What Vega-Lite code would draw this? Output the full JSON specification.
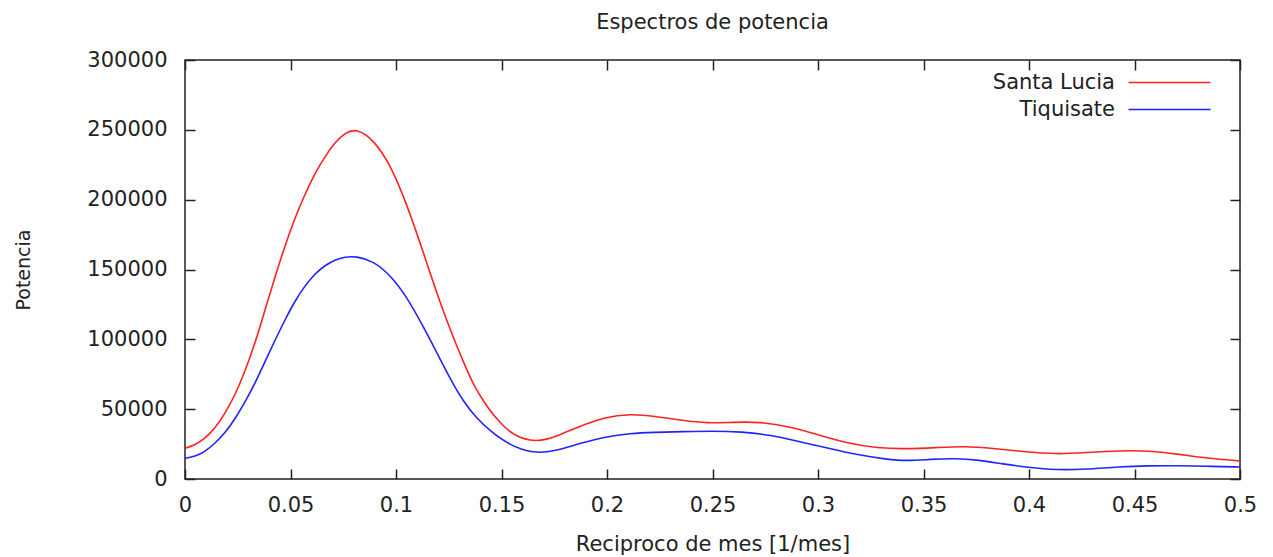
{
  "$schema": "https://vega.github.io/schema/vega-lite/v6.json",
  "width": 1055,
  "height": 419,
  "autosize": {"type": "none"},
  "padding": {"left": 185, "top": 60, "right": 33, "bottom": 78},
  "background": "white",
  "config": {
    "font": "DejaVu Sans",
    "view": {"stroke": "#222", "strokeWidth": 1.5},
    "axis": {
      "domain": false,
      "grid": false,
      "tickColor": "#222",
      "tickWidth": 1.5,
      "tickSize": -10,
      "labelColor": "#222",
      "labelFont": "DejaVu Sans",
      "labelFontSize": 21,
      "titleColor": "#222",
      "titleFont": "DejaVu Sans",
      "titleFontWeight": "normal"
    }
  },
  "title": {
    "text": "Espectros de potencia",
    "font": "DejaVu Sans",
    "fontSize": 21,
    "fontWeight": "normal",
    "color": "#222",
    "anchor": "middle",
    "offset": 16
  },
  "data": {
    "values": [
      {"f": 0, "p": 22000, "s": "Santa Lucia"},
      {"f": 0.0047, "p": 24300, "s": "Santa Lucia"},
      {"f": 0.0095, "p": 29100, "s": "Santa Lucia"},
      {"f": 0.0142, "p": 36300, "s": "Santa Lucia"},
      {"f": 0.019, "p": 47000, "s": "Santa Lucia"},
      {"f": 0.0237, "p": 60000, "s": "Santa Lucia"},
      {"f": 0.0284, "p": 77000, "s": "Santa Lucia"},
      {"f": 0.0332, "p": 97000, "s": "Santa Lucia"},
      {"f": 0.0379, "p": 121000, "s": "Santa Lucia"},
      {"f": 0.0427, "p": 145000, "s": "Santa Lucia"},
      {"f": 0.0474, "p": 167000, "s": "Santa Lucia"},
      {"f": 0.0521, "p": 187000, "s": "Santa Lucia"},
      {"f": 0.0569, "p": 204000, "s": "Santa Lucia"},
      {"f": 0.0616, "p": 219000, "s": "Santa Lucia"},
      {"f": 0.0664, "p": 231000, "s": "Santa Lucia"},
      {"f": 0.0711, "p": 241000, "s": "Santa Lucia"},
      {"f": 0.0758, "p": 248000, "s": "Santa Lucia"},
      {"f": 0.0814, "p": 251000, "s": "Santa Lucia"},
      {"f": 0.0893, "p": 243000, "s": "Santa Lucia"},
      {"f": 0.0972, "p": 225400, "s": "Santa Lucia"},
      {"f": 0.1051, "p": 197000, "s": "Santa Lucia"},
      {"f": 0.113, "p": 162000, "s": "Santa Lucia"},
      {"f": 0.1209, "p": 126000, "s": "Santa Lucia"},
      {"f": 0.1272, "p": 101000, "s": "Santa Lucia"},
      {"f": 0.1319, "p": 84000, "s": "Santa Lucia"},
      {"f": 0.1367, "p": 67000, "s": "Santa Lucia"},
      {"f": 0.143, "p": 52000, "s": "Santa Lucia"},
      {"f": 0.1493, "p": 40000, "s": "Santa Lucia"},
      {"f": 0.1556, "p": 31500, "s": "Santa Lucia"},
      {"f": 0.1635, "p": 27000, "s": "Santa Lucia"},
      {"f": 0.1714, "p": 27900, "s": "Santa Lucia"},
      {"f": 0.1793, "p": 32700, "s": "Santa Lucia"},
      {"f": 0.1856, "p": 36800, "s": "Santa Lucia"},
      {"f": 0.1994, "p": 44600, "s": "Santa Lucia"},
      {"f": 0.2109, "p": 46500, "s": "Santa Lucia"},
      {"f": 0.2224, "p": 45100, "s": "Santa Lucia"},
      {"f": 0.2361, "p": 41800, "s": "Santa Lucia"},
      {"f": 0.2476, "p": 39900, "s": "Santa Lucia"},
      {"f": 0.2591, "p": 40600, "s": "Santa Lucia"},
      {"f": 0.2729, "p": 41000, "s": "Santa Lucia"},
      {"f": 0.2867, "p": 37500, "s": "Santa Lucia"},
      {"f": 0.3005, "p": 31500, "s": "Santa Lucia"},
      {"f": 0.3142, "p": 25500, "s": "Santa Lucia"},
      {"f": 0.328, "p": 22000, "s": "Santa Lucia"},
      {"f": 0.3418, "p": 21500, "s": "Santa Lucia"},
      {"f": 0.3556, "p": 22400, "s": "Santa Lucia"},
      {"f": 0.3693, "p": 23600, "s": "Santa Lucia"},
      {"f": 0.3831, "p": 22000, "s": "Santa Lucia"},
      {"f": 0.3969, "p": 19600, "s": "Santa Lucia"},
      {"f": 0.413, "p": 17700, "s": "Santa Lucia"},
      {"f": 0.4268, "p": 18900, "s": "Santa Lucia"},
      {"f": 0.4428, "p": 20300, "s": "Santa Lucia"},
      {"f": 0.4566, "p": 20300, "s": "Santa Lucia"},
      {"f": 0.4704, "p": 17900, "s": "Santa Lucia"},
      {"f": 0.4842, "p": 14800, "s": "Santa Lucia"},
      {"f": 0.5, "p": 13000, "s": "Santa Lucia"},
      {"f": 0, "p": 14800, "s": "Tiquisate"},
      {"f": 0.0047, "p": 16000, "s": "Tiquisate"},
      {"f": 0.0095, "p": 19600, "s": "Tiquisate"},
      {"f": 0.0142, "p": 25500, "s": "Tiquisate"},
      {"f": 0.019, "p": 33000, "s": "Tiquisate"},
      {"f": 0.0237, "p": 43000, "s": "Tiquisate"},
      {"f": 0.0284, "p": 55000, "s": "Tiquisate"},
      {"f": 0.0332, "p": 68500, "s": "Tiquisate"},
      {"f": 0.0379, "p": 84000, "s": "Tiquisate"},
      {"f": 0.0427, "p": 99500, "s": "Tiquisate"},
      {"f": 0.0474, "p": 114000, "s": "Tiquisate"},
      {"f": 0.0521, "p": 127500, "s": "Tiquisate"},
      {"f": 0.0569, "p": 138500, "s": "Tiquisate"},
      {"f": 0.0616, "p": 147000, "s": "Tiquisate"},
      {"f": 0.0664, "p": 153000, "s": "Tiquisate"},
      {"f": 0.0711, "p": 157000, "s": "Tiquisate"},
      {"f": 0.0758, "p": 159000, "s": "Tiquisate"},
      {"f": 0.081, "p": 159500, "s": "Tiquisate"},
      {"f": 0.0893, "p": 156000, "s": "Tiquisate"},
      {"f": 0.0972, "p": 146100, "s": "Tiquisate"},
      {"f": 0.1051, "p": 130500, "s": "Tiquisate"},
      {"f": 0.113, "p": 109000, "s": "Tiquisate"},
      {"f": 0.1209, "p": 86000, "s": "Tiquisate"},
      {"f": 0.1256, "p": 72000, "s": "Tiquisate"},
      {"f": 0.1319, "p": 55500, "s": "Tiquisate"},
      {"f": 0.1382, "p": 43500, "s": "Tiquisate"},
      {"f": 0.1445, "p": 34500, "s": "Tiquisate"},
      {"f": 0.154, "p": 24000, "s": "Tiquisate"},
      {"f": 0.1651, "p": 18400, "s": "Tiquisate"},
      {"f": 0.1746, "p": 19600, "s": "Tiquisate"},
      {"f": 0.1872, "p": 25600, "s": "Tiquisate"},
      {"f": 0.1994, "p": 30300, "s": "Tiquisate"},
      {"f": 0.2109, "p": 32700, "s": "Tiquisate"},
      {"f": 0.2224, "p": 33400, "s": "Tiquisate"},
      {"f": 0.2361, "p": 33900, "s": "Tiquisate"},
      {"f": 0.2499, "p": 34400, "s": "Tiquisate"},
      {"f": 0.2637, "p": 33900, "s": "Tiquisate"},
      {"f": 0.2775, "p": 31500, "s": "Tiquisate"},
      {"f": 0.2913, "p": 26700, "s": "Tiquisate"},
      {"f": 0.305, "p": 22000, "s": "Tiquisate"},
      {"f": 0.3188, "p": 17200, "s": "Tiquisate"},
      {"f": 0.3326, "p": 14100, "s": "Tiquisate"},
      {"f": 0.3418, "p": 12900, "s": "Tiquisate"},
      {"f": 0.3533, "p": 14100, "s": "Tiquisate"},
      {"f": 0.3648, "p": 14800, "s": "Tiquisate"},
      {"f": 0.3763, "p": 13600, "s": "Tiquisate"},
      {"f": 0.3877, "p": 10700, "s": "Tiquisate"},
      {"f": 0.3992, "p": 8400, "s": "Tiquisate"},
      {"f": 0.413, "p": 6400, "s": "Tiquisate"},
      {"f": 0.4268, "p": 6900, "s": "Tiquisate"},
      {"f": 0.4428, "p": 8800, "s": "Tiquisate"},
      {"f": 0.4566, "p": 9500, "s": "Tiquisate"},
      {"f": 0.4704, "p": 9500, "s": "Tiquisate"},
      {"f": 0.4842, "p": 9100, "s": "Tiquisate"},
      {"f": 0.5, "p": 8600, "s": "Tiquisate"}
    ]
  },
  "layer": [
    {
      "mark": {"type": "line", "interpolate": "basis", "strokeWidth": 1.6},
      "encoding": {
        "x": {
          "field": "f", "type": "quantitative",
          "scale": {"domain": [0, 0.5], "nice": false, "zero": false},
          "axis": {
            "orient": "bottom",
            "values": [0, 0.05, 0.1, 0.15, 0.2, 0.25, 0.3, 0.35, 0.4, 0.45, 0.5],
            "format": "~g",
            "labelPadding": 25,
            "labelFlush": false,
            "title": "Reciproco de mes [1/mes]",
            "titleFontSize": 21,
            "titlePadding": 18
          }
        },
        "y": {
          "field": "p", "type": "quantitative",
          "scale": {"domain": [0, 300000], "nice": false},
          "axis": {
            "orient": "left",
            "values": [0, 50000, 100000, 150000, 200000, 250000, 300000],
            "format": "d",
            "labelPadding": 28,
            "title": "Potencia",
            "titleFontSize": 19,
            "titlePadding": 53
          }
        },
        "color": {
          "field": "s", "type": "nominal",
          "scale": {"domain": ["Santa Lucia", "Tiquisate"], "range": ["#ff2222", "#2222ff"]},
          "legend": {
            "title": null,
            "orient": "none",
            "legendX": 974,
            "legendY": 12,
            "padding": 0,
            "symbolType": "M-8.2,0H8.2",
            "symbolSize": 100,
            "symbolStrokeWidth": 1.6,
            "labelAlign": "right",
            "labelOffset": -65,
            "labelFontSize": 21,
            "labelColor": "#222",
            "labelFont": "DejaVu Sans",
            "rowPadding": 5
          }
        }
      }
    },
    {
      "mark": {"type": "line", "opacity": 0},
      "encoding": {
        "x": {
          "field": "f", "type": "quantitative",
          "scale": {"domain": [0, 0.5], "nice": false, "zero": false},
          "axis": {"orient": "top", "values": [0, 0.05, 0.1, 0.15, 0.2, 0.25, 0.3, 0.35, 0.4, 0.45, 0.5], "labels": false, "title": null}
        },
        "y": {
          "field": "p", "type": "quantitative",
          "scale": {"domain": [0, 300000], "nice": false},
          "axis": {"orient": "right", "values": [0, 50000, 100000, 150000, 200000, 250000, 300000], "labels": false, "title": null}
        },
        "detail": {"field": "s"}
      }
    }
  ],
  "resolve": {"axis": {"x": "independent", "y": "independent"}}
}
